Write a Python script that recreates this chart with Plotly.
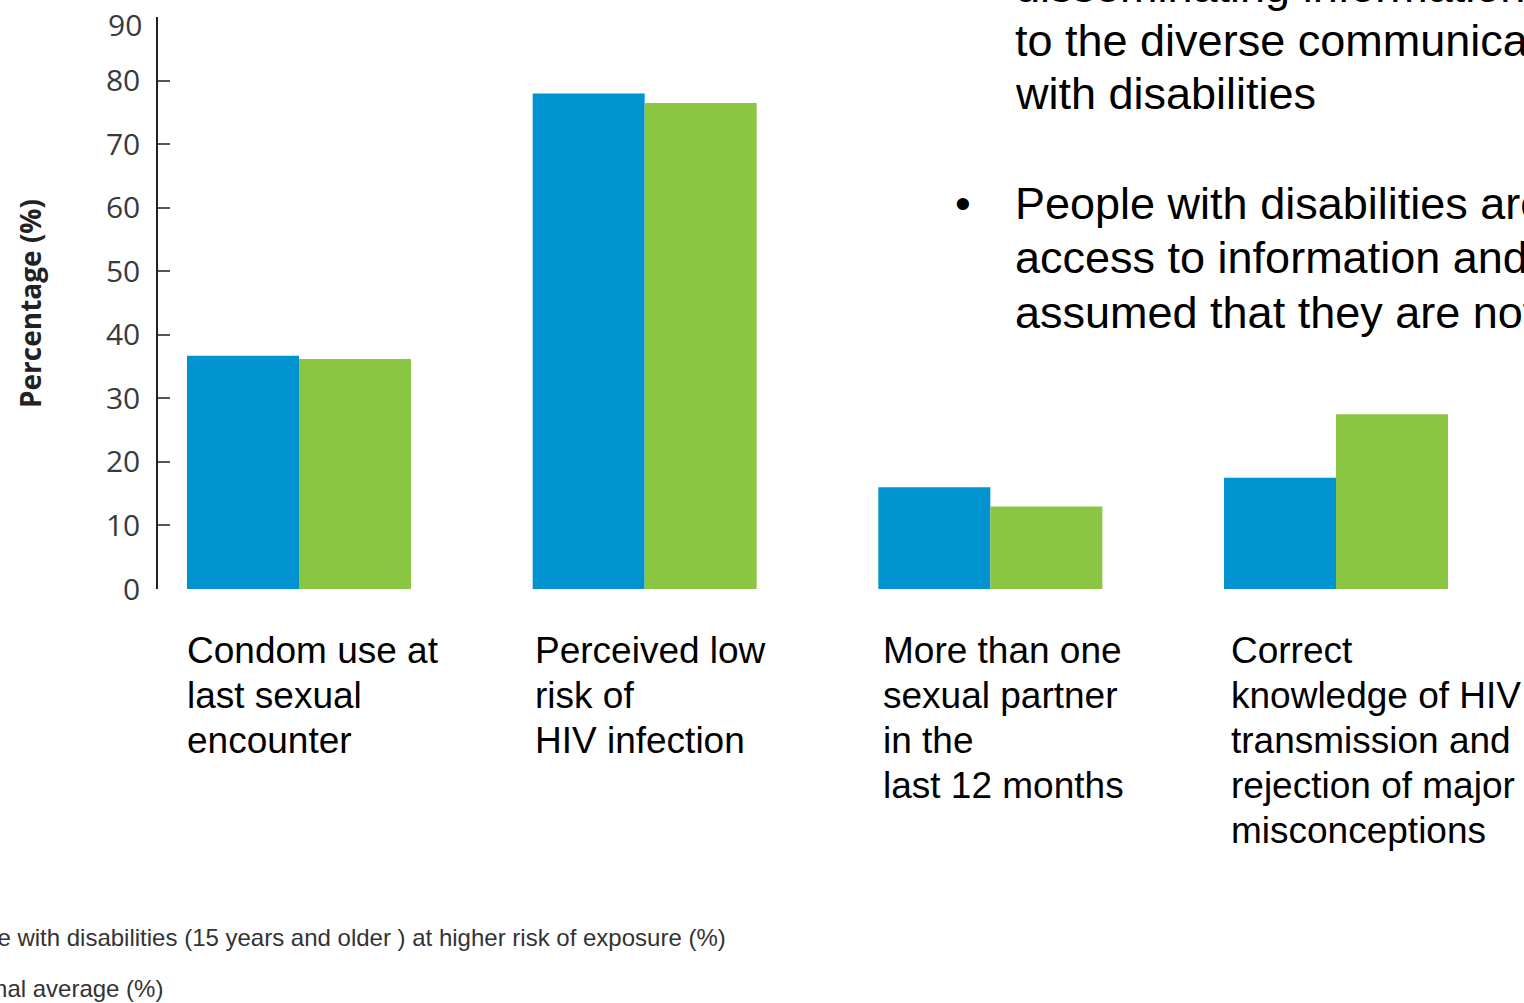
import plotly.graph_objects as go

# --- data -------------------------------------------------------------
categories = [
    "Condom use at<br>last sexual<br>encounter",
    "Perceived low<br>risk of<br>HIV infection",
    "More than one<br>sexual partner<br>in the<br>last 12 months",
    "Correct<br>knowledge of HIV<br>transmission and<br>rejection of major<br>misconceptions",
]
series_names = [
    "People with disabilities (15 years and older ) at higher risk of exposure (%)",
    "National average (%)",
]
disabled_values = [36.7, 78.0, 16.0, 17.5]
national_values = [36.2, 76.5, 13.0, 27.5]
y_ticks = [0, 10, 20, 30, 40, 50, 60, 70, 80, 90]

side_text = [
    "disseminating information",
    "to the diverse communication",
    "with disabilities",
]
bullet_text = [
    "People with disabilities are",
    "access to information and",
    "assumed that they are not",
]

BLUE = "#0093CF"
GREEN = "#8AC642"

# --- layout geometry (pixels) ----------------------------------------
W, H = 1524, 1003
PLOT_L, PLOT_R = 158, W
PLOT_T, PLOT_B = 17, 589
GROUP0, GROUP_STEP = 299, 345.67
X_MIN = (PLOT_L - GROUP0) / GROUP_STEP
X_MAX = (PLOT_R - GROUP0) / GROUP_STEP


def px_x(px):
    """Horizontal pixel -> paper fraction."""
    return (px - PLOT_L) / (PLOT_R - PLOT_L)


def px_y(py):
    """Vertical pixel -> paper fraction."""
    return (PLOT_B - py) / (PLOT_B - PLOT_T)


xs = list(range(len(categories)))

fig = go.Figure()
fig.add_trace(go.Bar(x=xs, y=disabled_values, name=series_names[0],
                     marker=dict(color=BLUE, line=dict(width=0))))
fig.add_trace(go.Bar(x=xs, y=national_values, name=series_names[1],
                     marker=dict(color=GREEN, line=dict(width=0))))

annotations = []
TEXT_FONT = "Liberation Sans, Arial"
TICK_FONT = dict(family="Open Sans", size=30, color="#3a3a3a")

# the top tick label sits just below its tick so it stays inside the page
top_tick = y_ticks[-1]
tick_text = [str(v) for v in y_ticks[:-1]] + [""]
annotations.append(dict(
    x=px_x(144), xref="paper", xanchor="right",
    y=px_y(25), yref="paper", yanchor="middle",
    text=str(top_tick), showarrow=False, font=TICK_FONT,
))

# category labels under each group, one line at a time
for i, label in enumerate(categories):
    for j, line in enumerate(label.split("<br>")):
        annotations.append(dict(
            x=px_x(185 + 348 * i), xref="paper", xanchor="left",
            y=px_y(650 + 45 * j), yref="paper", yanchor="middle",
            text=line, showarrow=False,
            font=dict(family=TEXT_FONT, size=37, color="#000"),
        ))

# y-axis title
annotations.append(dict(
    x=px_x(30), xref="paper", xanchor="center",
    y=px_y(304), yref="paper", yanchor="middle",
    text="<b>Percentage (%)</b>", textangle=-90, showarrow=False,
    font=dict(family="Open Sans", size=28, color="#222"),
))

# slide text at the upper right
for j, line in enumerate(side_text):
    annotations.append(dict(
        x=px_x(1013), xref="paper", xanchor="left",
        y=px_y(-14 + 54 * j), yref="paper", yanchor="middle",
        text=line, showarrow=False,
        font=dict(family=TEXT_FONT, size=45, color="#000"),
    ))
annotations.append(dict(
    x=px_x(963), xref="paper", xanchor="center",
    y=px_y(203), yref="paper", yanchor="middle",
    text="•", showarrow=False,
    font=dict(family=TEXT_FONT, size=45, color="#000"),
))
for j, line in enumerate(bullet_text):
    annotations.append(dict(
        x=px_x(1013), xref="paper", xanchor="left",
        y=px_y(203 + 54.5 * j), yref="paper", yanchor="middle",
        text=line, showarrow=False,
        font=dict(family=TEXT_FONT, size=45, color="#000"),
    ))

# series key text along the bottom
for name, right_px, cy in [(series_names[0], 728, 937), (series_names[1], 165, 988)]:
    annotations.append(dict(
        x=px_x(right_px), xref="paper", xanchor="right",
        y=px_y(cy), yref="paper", yanchor="middle",
        text=name, showarrow=False,
        font=dict(family="Liberation Sans Narrow, Arial Narrow, Liberation Sans",
                  size=24, color="#333"),
    ))

fig.update_layout(
    width=W, height=H,
    margin=dict(l=PLOT_L, r=W - PLOT_R, t=PLOT_T, b=H - PLOT_B, pad=0,
                autoexpand=False),
    paper_bgcolor="white", plot_bgcolor="white",
    barmode="group", bargap=0.352, bargroupgap=0,
    showlegend=False,
    annotations=annotations,
    xaxis=dict(range=[X_MIN, X_MAX], showline=False, showgrid=False,
               zeroline=False, showticklabels=False, ticks="", automargin=False),
    yaxis=dict(range=[0, 90.02], tickvals=y_ticks, ticktext=tick_text,
               showgrid=False, zeroline=False, automargin=False,
               showline=True, linecolor="#222", linewidth=1.5,
               ticks="inside", ticklen=12, tickwidth=1.5, tickcolor="#555",
               ticklabelstandoff=10, ticklabeloverflow="allow",
               tickfont=TICK_FONT),
)

fig.write_html("out.html")
